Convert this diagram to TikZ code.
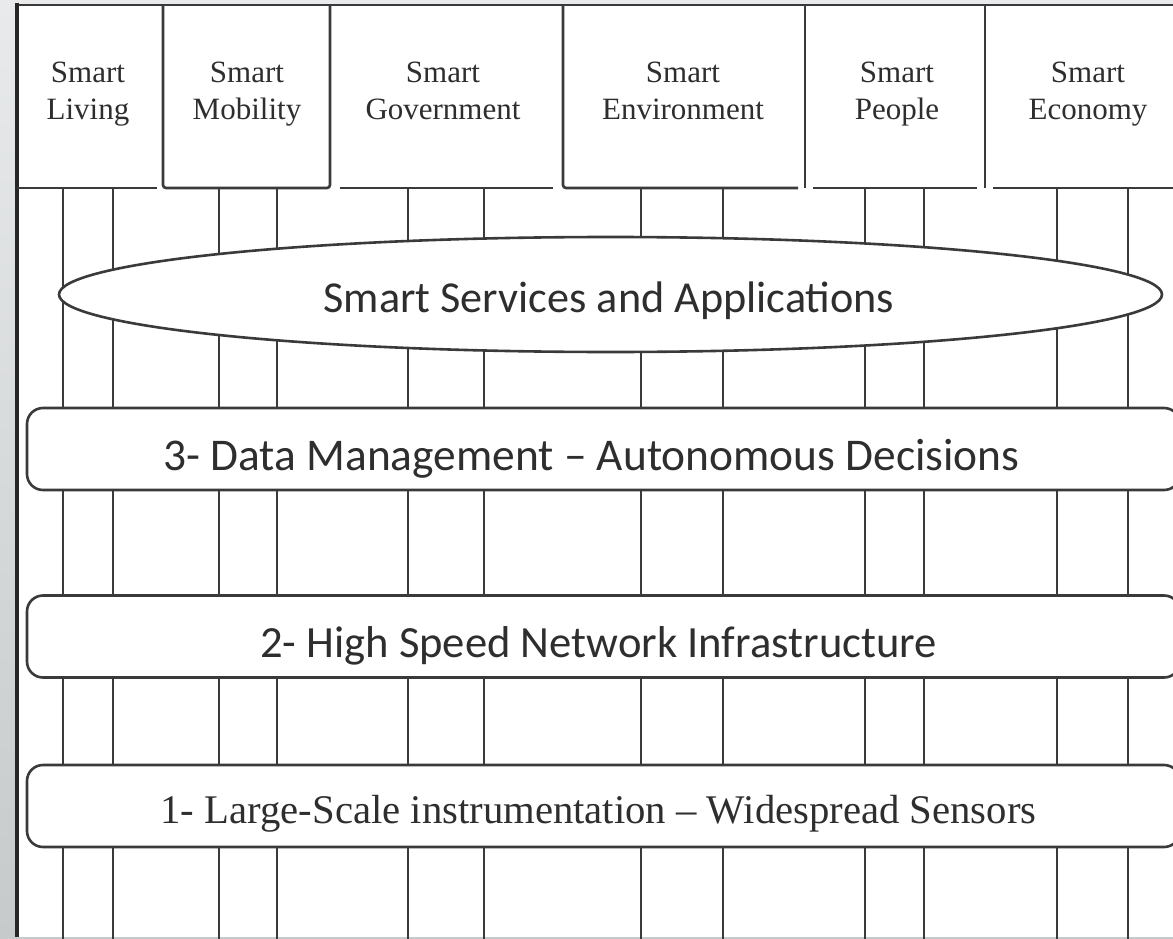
\documentclass[tikz,border=0pt]{standalone}
\usepackage{fontspec}
\usepackage{tikz}
\usetikzlibrary{shapes.geometric, positioning}
\newfontfamily\timesfont[Ligatures=TeX]{Liberation Serif}
\newfontfamily\calibrifont[Ligatures=TeX]{Carlito}
\definecolor{linegray}{HTML}{3A3A3A}
\definecolor{textgray}{HTML}{2E2E2E}
\definecolor{sidelight}{HTML}{E8EAEB}
\definecolor{sidedark}{HTML}{C6CACB}

\begin{document}
\begin{tikzpicture}[x=1pt, y=-1pt,
  frameline/.style={linegray, line width=2.6pt},
  column/.style={linegray, line width=2.6pt},
  domainlabel/.style={textgray, font=\timesfont\fontsize{31}{37}\selectfont, align=center, anchor=base, inner sep=0pt},
  layerbox/.style={draw=linegray, fill=white, line width=2.6pt, rounded corners=16pt,
    minimum width=1153pt, minimum height=82pt, inner sep=0pt},
  layertext/.style={textgray, anchor=base, inner sep=0pt},
  servicebox/.style={ellipse, draw=linegray, fill=white, line width=2.6pt,
    minimum width=1103pt, minimum height=115pt, inner sep=0pt}]
  \useasboundingbox (0,0) rectangle (1173,939);
  \clip (0,0) rectangle (1173,939);

  % Background and frame
  \shade[top color=sidelight, bottom color=sidedark] (0,0) rectangle (1173,939);
  \fill[white] (17,5) rectangle (1190,937);
  \draw[frameline] (17,5) -- (1190,5);
  \draw[line width=3.6pt, black!85] (17,3) -- (17,937);

  % Top boxes
  \draw[frameline, rounded corners=3pt] (163,5) |- (330,188) -- (330,5);
  \draw[frameline, rounded corners=3pt] (563,5) |- (798,188);
  \foreach \x in {805,985}
    \draw[frameline] (\x,5) -- (\x,188);
  \foreach \a/\b in {17/157,340/553,813/977,993/1190}
    \draw[frameline] (\a,188) -- (\b,188);

  \node[domainlabel] (living) at (88,120) {Smart\\Living};
  \node[domainlabel] (mobility) at (247,120) {Smart\\Mobility};
  \node[domainlabel] (government) at (443,120) {Smart\\Government};
  \node[domainlabel] (environment) at (683,120) {Smart\\Environment};
  \node[domainlabel] (people) at (897,120) {Smart\\People};
  \node[domainlabel] (economy) at (1088,120) {Smart\\Economy};

  % Columns
  \foreach \x in {63,113,219,277,408,484,641,723,865,924,1057,1128}
    \draw[column] (\x,188) -- (\x,939);

  % Layers
  \node[servicebox] (services) at (610.5,294.5) {};
  \node[layerbox] (data) at (603.5,449) {};
  \node[layerbox] (network) at (603.5,636.5) {};
  \node[layerbox] (sensors) at (603.5,806) {};

  \node[layertext, font=\calibrifont\fontsize{44.2}{52}\selectfont] (servicestext) at (609,312) {Smart Services and Applications};
  \node[layertext, font=\calibrifont\fontsize{45.4}{52}\selectfont] (datatext) at (591.5,470) {3- Data Management – Autonomous Decisions};
  \node[layertext, font=\calibrifont\fontsize{44.6}{52}\selectfont] (networktext) at (598.5,657) {2- High Speed Network Infrastructure};
  \node[layertext, font=\timesfont\fontsize{40.7}{48}\selectfont] (sensorstext) at (598.5,823) {1- Large-Scale instrumentation – Widespread Sensors};
\end{tikzpicture}
\end{document}
